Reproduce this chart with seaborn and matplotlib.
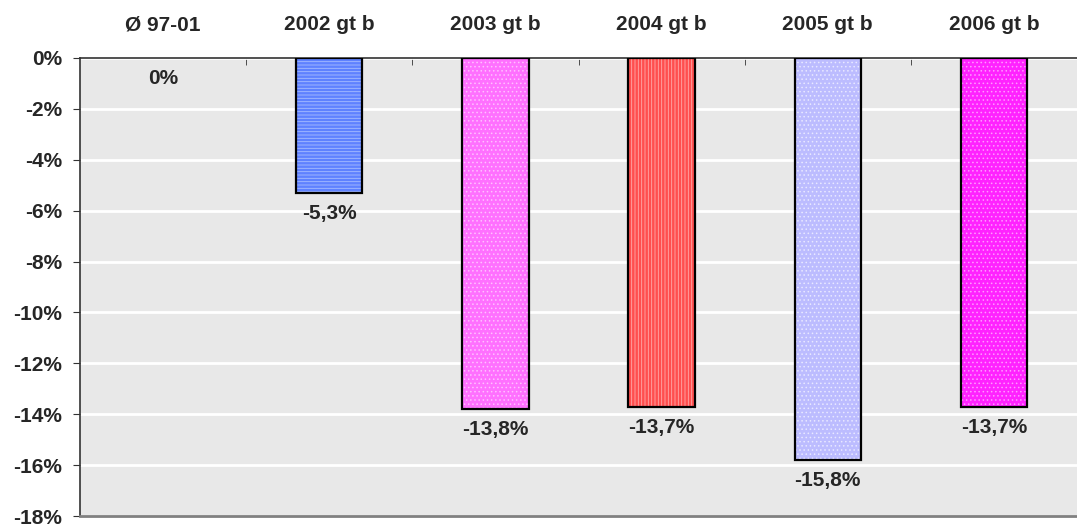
import matplotlib
matplotlib.use("Agg")
import matplotlib.pyplot as plt
import seaborn as sns
import pandas as pd

# Daten
categories = ["Ø 97-01", "2002 gt b", "2003 gt b", "2004 gt b", "2005 gt b", "2006 gt b"]
values = [0.0, -5.3, -13.8, -13.7, -15.8, -13.7]
value_labels = ["0%", "-5,3%", "-13,8%", "-13,7%", "-15,8%", "-13,7%"]
fill_colors = ["#FFFFFF", "#5F82FF", "#FF70FF", "#FF4E4E", "#BCBCFF", "#FF22FF"]
hatch_colors = ["#FFFFFF", "#A8BDFF", "#FFC0FF", "#FFAAAA", "#E8E8FF", "#FF99FF"]
hatches = ["", "-----", "....", "|||||", "....", "...."]
ytick_vals = list(range(0, -20, -2))

df = pd.DataFrame({"cat": categories, "val": values})

sns.set_style("white")
plt.rcParams["font.family"] = ["Liberation Sans", "DejaVu Sans"]
plt.rcParams["font.weight"] = "bold"
plt.rcParams["hatch.linewidth"] = 0.6

fig = plt.figure(figsize=(10.77, 5.26), dpi=100)
ax = fig.add_axes([80 / 1077, 10 / 526, 997 / 1077, 458 / 526])
ax.set_facecolor("#E8E8E8")

# Füllung mit Schraffur (Schraffurfarbe = Kantenfarbe)
sns.barplot(data=df, x="cat", y="val", hue="cat", palette=fill_colors,
            width=0.4, legend=False, ax=ax, zorder=2, saturation=1)
for patch, h, hc in zip(ax.patches, hatches, hatch_colors):
    patch.set_hatch(h)
    patch.set_edgecolor(hc)
    patch.set_linewidth(0)
n_fill = len(ax.patches)
# Rahmen
sns.barplot(data=df, x="cat", y="val", fill=False, color="black",
            width=0.4, linewidth=1.6, ax=ax, zorder=3)
for patch, v in zip(ax.patches[n_fill:], values):
    if v == 0:
        patch.set_visible(False)

ax.set_ylim(-18, 0)
ax.set_xlim(-0.5, len(categories) - 0.5)
ax.set_yticks(ytick_vals)
ax.set_yticklabels([f"{v}%" for v in ytick_vals], fontsize=15, fontweight="bold")
ax.yaxis.grid(True, color="white", linewidth=2, zorder=0)
ax.set_axisbelow(True)

ax.xaxis.tick_top()
ax.set_xticks(range(len(categories)))
ax.set_xticklabels(categories, fontsize=15, fontweight="bold")
ax.tick_params(axis="x", which="major", length=0, pad=17)
ax.set_xticks([i + 0.5 for i in range(len(categories) - 1)], minor=True)
ax.tick_params(axis="x", which="minor", direction="in", length=5, color="#333333", top=True, bottom=False)
ax.tick_params(axis="y", length=5, color="#333333", left=True, pad=8)
ax.set_xlabel("")
ax.set_ylabel("")

for s in ["top", "left"]:
    ax.spines[s].set_color("#333333")
    ax.spines[s].set_linewidth(1.2)
ax.spines["bottom"].set_color("#808080")
ax.spines["bottom"].set_linewidth(2)
ax.spines["right"].set_visible(False)

for i, (v, lab) in enumerate(zip(values, value_labels)):
    ax.annotate(lab, (i, v), xytext=(0, -15), textcoords="offset points",
                ha="center", va="center", fontsize=15, fontweight="bold", zorder=4)

fig.savefig("out.png", dpi=100)
